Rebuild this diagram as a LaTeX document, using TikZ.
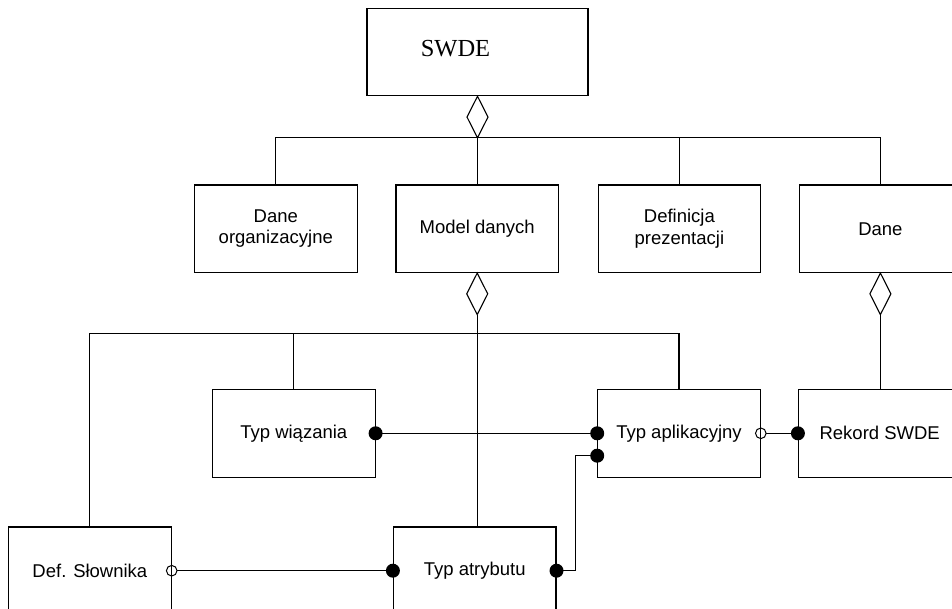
\documentclass[tikz,border=0pt]{standalone}
\usepackage{fontspec}
\setmainfont{Liberation Sans}
\newfontfamily\swdefont{Liberation Serif}
\usetikzlibrary{shapes.geometric,calc}
\begin{document}
\begin{tikzpicture}[x=1pt,y=-1pt,
  box/.style={draw,line width=1.1pt,minimum width=162.5pt,minimum height=87.5pt,inner sep=0pt,
    font=\fontsize{18.5}{21.3}\selectfont,align=center},
  agg/.style={draw,line width=1.1pt,shape=diamond,minimum width=21pt,minimum height=41.5pt,
    inner sep=0pt,outer sep=0pt,anchor=north},
  conn/.style={line width=1.1pt},
  fdot/.style={fill=black},
  odot/.style={draw,line width=1pt}]
\fill[white] (0,0) rectangle (952,609);
\useasboundingbox (0,0) rectangle (952,609);

% top
\node[box,minimum width=221pt] (swde) at (477.5,52) {};
\node[font=\swdefont\fontsize{24.5}{28}\selectfont,inner sep=0pt] (swdet) at (455.5,48.7) {SWDE};

% row 1
\node[box] (dorg) at (275.8,228.8) {Dane\\organizacyjne};
\node[box] (model) at (477.2,228.8) {Model danych};
\node[box] (defp) at (679.4,228.8) {Definicja\\prezentacji};
\node[box] (dane) at (880.4,228.8) {Dane};

% row 2
\node[box] (typw) at (293.8,433.3) {Typ wiązania};
\node[box] (typapp) at (679,433.3) {Typ aplikacyjny};
\node[box] (rekord) at (879.7,433.3) {Rekord SWDE};

% row 3
\node[box] (defs) at (89.9,570.7) {Def. Słownika};
\node[box] (typatr) at (474.7,570.7) {Typ atrybutu};

% aggregation diamonds
\node[agg] (d1) at (swde.south) {};
\node[agg] (d2) at (model.south) {};
\node[agg] (d3) at (dane.south) {};

% tree connectors
\draw[conn] (dorg.north) |- (d1.south) -| (dane.north);
\draw[conn] (d1.south) -- (d1.south |- model.north);
\draw[conn] (defp.north) -- (defp.north |- d1.south);

\coordinate (bus2) at ($(d2.south)+(0,19.3)$);
\draw[conn] (d2.south) -- (d2.south |- typatr.north);
\draw[conn] (defs.north) |- (bus2) -| (typapp.north);
\draw[conn] (typw.north) -- (typw.north |- bus2);
\draw[conn] (d3.south) -- (d3.south |- rekord.north);

% associations
\coordinate (oc1) at (typapp.east);
\coordinate (oc2) at (defs.east);
\draw[conn] (typw.east) -- (typapp.west);
\draw[conn] ($(oc1)+(5.3,0)$) -- (rekord.west);
\draw[conn] ($(oc2)+(5.3,0)$) -- (typatr.west);
\coordinate (ta1) at ($(typapp.west)+(0,22.4)$);
\draw[conn] (ta1) -- ++(-21.5,0) |- (typatr.east);

% end markers
\fill[fdot] (typw.east) circle[radius=7pt];
\fill[fdot] (typapp.west) circle[radius=7pt];
\fill[fdot] (ta1) circle[radius=7pt];
\fill[fdot] (rekord.west) circle[radius=7pt];
\fill[fdot] (typatr.west) circle[radius=7pt];
\fill[fdot] (typatr.east) circle[radius=7pt];
\draw[odot] (oc1) circle[radius=5.3pt];
\draw[odot] (oc2) circle[radius=5.3pt];
\end{tikzpicture}
\end{document}
